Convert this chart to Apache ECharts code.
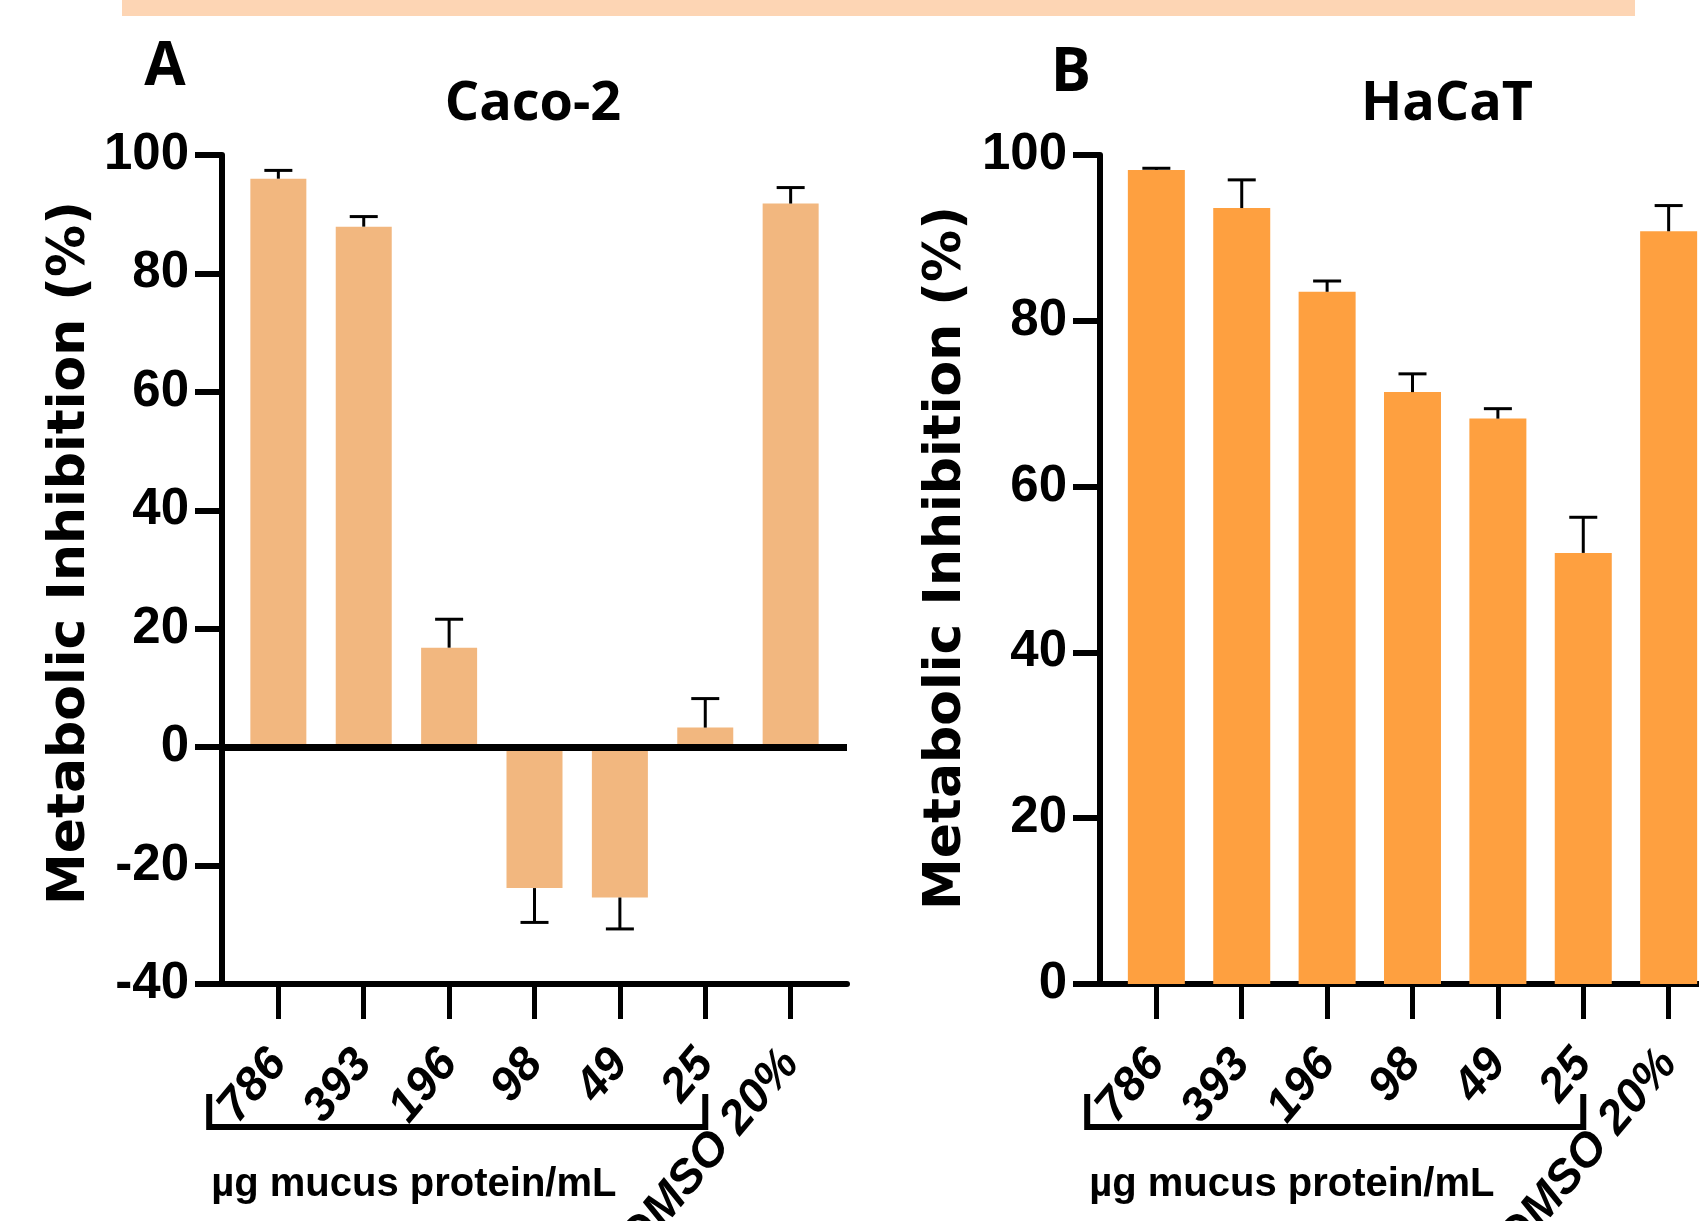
<!DOCTYPE html>
<html>
<head>
<meta charset="utf-8">
<script src="https://cdn.jsdelivr.net/npm/echarts@6/dist/echarts.min.js"></script>
<style>
  html, body { margin: 0; padding: 0; background: #ffffff; }
  #chart { width: 1699px; height: 1221px; }
</style>
</head>
<body>
<div id="chart"></div>
<script>
// ---- data ----
const categories = ['786', '393', '196', '98', '49', '25', 'DMSO 20%'];
const cacoMean  = [96.0, 87.9, 16.8, -23.8, -25.4, 3.3, 91.8];
const cacoSD    = [1.4, 1.7, 4.8, 5.8, 5.3, 4.9, 2.7];
const hacatMean = [98.2, 93.6, 83.5, 71.4, 68.2, 52.0, 90.8];
const hacatSD   = [0.2, 3.4, 1.3, 2.2, 1.2, 4.3, 3.1];
const cacoTicks  = { min: -40, max: 100, step: 20 };
const hacatTicks = { min: 0, max: 100, step: 20 };
const panelTitles = ['Caco-2', 'HaCaT'];
const panelLetters = ['A', 'B'];
const yTitle = 'Metabolic Inhibition (%)';
const bracketText = 'µg mucus protein/mL';

const catIdx = categories.map((c, i) => i);
const LIB = '"Liberation Sans", Arial, sans-serif';
const DEJA = '"DejaVu Sans", "Liberation Sans", sans-serif';
const OPEN = '"Open Sans", "Noto Sans", sans-serif';

function xAxisFor(grid) {
  return {
    gridIndex: grid, type: 'value', min: -0.66, max: 6.66, position: 'bottom',
    axisLine: { show: true, onZero: false, lineStyle: { color: '#000', width: 6 } },
    axisTick: { show: true, customValues: catIdx, length: 35, lineStyle: { color: '#000', width: 5 } },
    axisLabel: {
      show: true, customValues: catIdx, formatter: v => categories[Math.round(v)],
      rotate: 50, margin: 72, fontSize: 47, fontWeight: 'bold', fontStyle: 'italic',
      fontFamily: LIB, color: '#000', hideOverlap: false
    },
    splitLine: { show: false }
  };
}
function yAxisFor(grid, t) {
  return {
    gridIndex: grid, type: 'value', min: t.min, max: t.max, interval: t.step,
    axisLine: { show: true, onZero: false, lineStyle: { color: '#000', width: 6 } },
    axisTick: { show: true, length: 27, lineStyle: { color: '#000', width: 6 } },
    axisLabel: { margin: 33, fontSize: 51, fontWeight: 'bold', fontFamily: LIB, color: '#000' },
    splitLine: { show: false }
  };
}
function errRender(params, api) {
  const x = api.value(0), m = api.value(1), sd = api.value(2);
  const tip = m >= 0 ? m + sd : m - sd;
  const p0 = api.coord([x, m]);
  const p1 = api.coord([x, tip]);
  const hw = 14;
  return {
    type: 'group',
    children: [
      { type: 'line', shape: { x1: p0[0], y1: p0[1], x2: p1[0], y2: p1[1] }, style: { stroke: '#000', lineWidth: 3 } },
      { type: 'line', shape: { x1: p1[0] - hw, y1: p1[1], x2: p1[0] + hw, y2: p1[1] }, style: { stroke: '#000', lineWidth: 3 } }
    ]
  };
}

const chart = echarts.init(document.getElementById('chart'), null, { renderer: 'canvas' });

const option = {
  backgroundColor: '#ffffff',
  animation: false,
  grid: [
    { left: 222, top: 155, width: 625, height: 829, containLabel: false, outerBoundsMode: 'none' },
    { left: 1100, top: 155, width: 625, height: 829, containLabel: false, outerBoundsMode: 'none' }
  ],
  xAxis: [xAxisFor(0), xAxisFor(1)],
  yAxis: [yAxisFor(0, cacoTicks), yAxisFor(1, hacatTicks)],
  series: [
    {
      type: 'bar', xAxisIndex: 0, yAxisIndex: 0, barWidth: 56,
      itemStyle: { color: '#F2B77F' },
      data: catIdx.map(i => [i, cacoMean[i]]),
      markLine: {
        silent: true, symbol: 'none', label: { show: false },
        lineStyle: { color: '#000', width: 7, type: 'solid' },
        emphasis: { disabled: true },
        data: [{ yAxis: 0 }]
      }
    },
    {
      type: 'custom', xAxisIndex: 0, yAxisIndex: 0, renderItem: errRender, z: 5,
      data: catIdx.map(i => [i, cacoMean[i], cacoSD[i]])
    },
    {
      type: 'bar', xAxisIndex: 1, yAxisIndex: 1, barWidth: 57,
      itemStyle: { color: '#FEA040' },
      data: catIdx.map(i => [i, hacatMean[i]])
    },
    {
      type: 'custom', xAxisIndex: 1, yAxisIndex: 1, renderItem: errRender, z: 5,
      data: catIdx.map(i => [i, hacatMean[i], hacatSD[i]])
    }
  ]
};
chart.setOption(option);

// ---- decorations positioned from the axes ----
function txt(text, x, y, size, family, extra) {
  return Object.assign({
    type: 'text', x: x, y: y, silent: true,
    style: {
      text: text, fontSize: size, fontWeight: 'bold', fontFamily: family, fill: '#000',
      align: 'center', verticalAlign: 'middle', textAlign: 'center', textVerticalAlign: 'middle'
    }
  }, extra || {});
}

const graphics = [
  { type: 'rect', shape: { x: 122, y: 0, width: 1513, height: 16 }, style: { fill: '#FDD5B4' }, silent: true },
  txt(panelLetters[0], 165, 68, 60, OPEN),
  txt(panelLetters[1], 1071, 74, 60, OPEN),
  txt(panelTitles[0], 533, 105, 54, OPEN),
  txt(panelTitles[1], 1447, 105, 54, OPEN),
  txt(yTitle, 70, 553, 52, DEJA, { rotation: Math.PI / 2 }),
  txt(yTitle, 946, 558, 52, DEJA, { rotation: Math.PI / 2 })
];

[0, 1].forEach(g => {
  const xl = chart.convertToPixel({ xAxisIndex: g }, -0.81);
  const xr = chart.convertToPixel({ xAxisIndex: g }, 5);
  const yb = chart.convertToPixel({ yAxisIndex: g }, g === 0 ? cacoTicks.min : hacatTicks.min);
  const yLine = yb + 143;
  graphics.push({
    type: 'polyline', silent: true,
    shape: { points: [[xl, yLine - 33], [xl, yLine], [xr, yLine], [xr, yLine - 33]] },
    style: { stroke: '#000', lineWidth: 6, fill: null, lineJoin: 'miter' }
  });
  graphics.push({
    type: 'text', x: xl + 2, y: yLine + 58, silent: true,
    style: {
      text: bracketText, fontSize: 40, fontWeight: 'bold', fontFamily: LIB, fill: '#000',
      align: 'left', verticalAlign: 'middle', textAlign: 'left', textVerticalAlign: 'middle'
    }
  });
});

chart.setOption({ graphic: { elements: graphics } });
</script>
</body>
</html>
